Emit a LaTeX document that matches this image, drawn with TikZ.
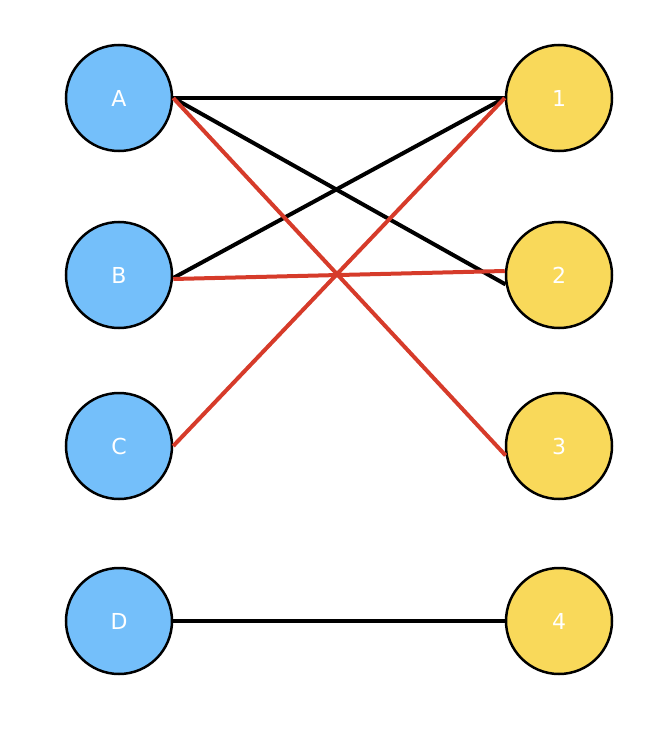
\documentclass[tikz,border=0pt]{standalone}
\usepackage{fontspec}
\setsansfont{DejaVu Sans}
\begin{document}
\begin{tikzpicture}[x=1pt,y=-1pt,
  v/.style={circle,draw=black,line width=2.5pt,minimum size=106pt,inner sep=0pt,text=white,font=\sffamily\fontsize{22}{22}\selectfont},
  L/.style={v,fill={rgb,255:red,116;green,191;blue,250}},
  R/.style={v,fill={rgb,255:red,249;green,217;blue,90}},
  bk/.style={line width=4pt,black},
  rd/.style={line width=4pt,draw={rgb,255:red,214;green,59;blue,42}}]
\useasboundingbox (0,0) rectangle (670,738);
\node[L] (A) at (119,98) {A};
\node[L] (B) at (119,275) {B};
\node[L] (C) at (119,446) {C};
\node[L] (D) at (119,621) {D};
\node[R] (1) at (559,98) {1};
\node[R] (2) at (559,275) {2};
\node[R] (3) at (559,446) {3};
\node[R] (4) at (559,621) {4};
\draw[bk] (A.east) -- (1.west);
\draw[bk] (A.east) -- (2.190);
\draw[bk] (B.183) ++(0,0) (B.east) ++(0,3) coordinate (b1) (b1) -- (1.west);
\draw[rd] (B.east) ++(0,4) coordinate (b2) (b2) -- ([yshift=4pt]2.west);
\draw[rd] (A.east) -- (3.190);
\draw[rd] (C.east) -- (1.west);
\draw[bk] (D.east) -- (4.west);
\end{tikzpicture}
\end{document}
